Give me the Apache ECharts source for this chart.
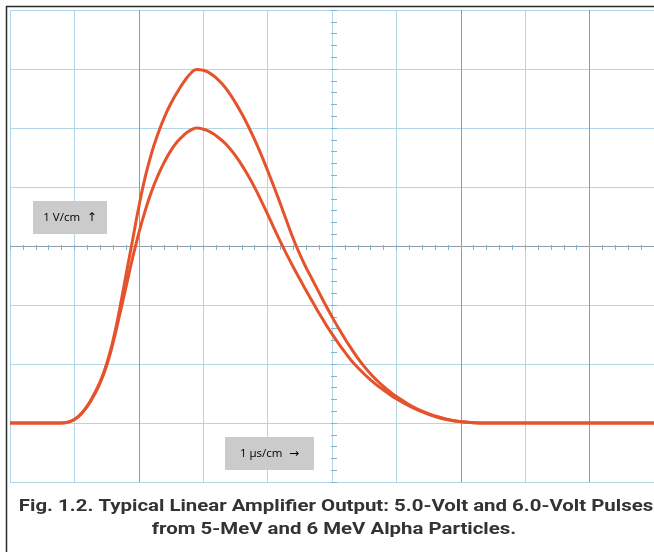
<!DOCTYPE html>
<html>
<head>
<meta charset="utf-8">
<script src="https://cdn.jsdelivr.net/npm/echarts@6/dist/echarts.min.js"></script>
<style>
html,body{margin:0;padding:0;background:#fff;}
#chart{width:654px;height:552px;}
</style>
</head>
<body>
<div id="chart"></div>
<script>
// time in microseconds (1 µs/cm)
const timeUs = [0, 0.4, 0.8, 0.9, 1.0, 1.1, 1.2, 1.3, 1.4, 1.5, 1.6, 1.7, 1.8, 1.9, 2.0, 2.1, 2.2, 2.3, 2.4, 2.5, 2.6, 2.7, 2.8, 2.9, 3.0, 3.1, 3.2, 3.3, 3.4, 3.5, 3.6, 3.7, 3.8, 3.9, 4.0, 4.1, 4.2, 4.3, 4.4, 4.5, 4.6, 4.7, 4.8, 4.9, 5.0, 5.1, 5.2, 5.3, 5.4, 5.5, 5.6, 5.7, 5.8, 5.9, 6.0, 6.2, 6.4, 6.6, 6.8, 7.0, 7.2, 7.4, 8, 9, 10];
// 6.0-Volt pulse (6-MeV alpha)
const pulse6V = [0, 0, 0, 0.015, 0.06, 0.15, 0.29, 0.48, 0.7, 1.0, 1.4, 1.92, 2.5, 3.08, 3.66, 4.17, 4.58, 4.91, 5.19, 5.42, 5.61, 5.78, 5.92, 5.99, 5.98, 5.93, 5.85, 5.74, 5.6, 5.43, 5.24, 5.03, 4.8, 4.55, 4.28, 4.0, 3.71, 3.41, 3.12, 2.86, 2.63, 2.42, 2.21, 2.0, 1.8, 1.61, 1.43, 1.26, 1.1, 0.96, 0.83, 0.72, 0.62, 0.53, 0.45, 0.31, 0.2, 0.12, 0.06, 0.025, 0.005, 0, 0, 0, 0];
// 5.0-Volt pulse (5-MeV alpha)
const pulse5V = [0, 0, 0, 0.015, 0.06, 0.15, 0.28, 0.46, 0.68, 0.97, 1.36, 1.82, 2.3, 2.78, 3.22, 3.6, 3.93, 4.2, 4.43, 4.62, 4.77, 4.88, 4.96, 5.0, 4.98, 4.94, 4.87, 4.78, 4.67, 4.53, 4.37, 4.19, 3.99, 3.77, 3.54, 3.3, 3.07, 2.85, 2.64, 2.44, 2.24, 2.05, 1.86, 1.68, 1.51, 1.35, 1.2, 1.06, 0.94, 0.83, 0.73, 0.64, 0.56, 0.48, 0.41, 0.29, 0.19, 0.11, 0.055, 0.02, 0.005, 0, 0, 0, 0];
const xTicks = [0, 1, 2, 3, 4, 5, 6, 7, 8, 9, 10];
const yTicks = [-1, 0, 1, 2, 3, 4, 5, 6, 7];
const voltText = '1 V/cm', voltArrow = '\u2191';
const timeText = '1 \u00b5s/cm', timeArrow = '\u2192';
const captionLine1 = 'Fig. 1.2. Typical Linear Amplifier Output: 5.0-Volt and 6.0-Volt Pulses';
const captionLine2 = 'from 5-MeV and 6 MeV Alpha Particles.';

const BLUE = '#b3d5e8', GRAY = '#8e9ca6';
const xLineColors = xTicks.map(t => (t === 2 || t === 7 || t === 9) ? GRAY : BLUE);
const yLineColors = yTicks.map(v => v === 3 ? GRAY : BLUE);

const chart = echarts.init(document.getElementById('chart'), null, {renderer: 'canvas'});
const lineColor = '#e5532c';
const mk = ys => timeUs.map((t, i) => [t, ys[i]]);
const hidden = {axisLabel: {show: false}, axisTick: {show: false}, axisLine: {show: false, onZero: false}};

const centerTick = (extra) => Object.assign({
  type: 'value', min: 0, max: 10, interval: 0.2,
  axisLabel: {show: false}, splitLine: {show: false},
  axisLine: {show: false, onZero: false}
}, extra);
const tickStyle = {color: '#7fb6d6', width: 1};

const labelRich = {
  t: {fontFamily: '"Open Sans", sans-serif', fontSize: 11.5, color: '#333'},
  a: {fontFamily: '"DejaVu Sans", sans-serif', fontSize: 12, color: '#333'}
};

const option = {
  backgroundColor: '#ffffff',
  animation: false,
  grid: {left: 10, top: 10, width: 648, height: 472, containLabel: false},
  xAxis: [
    Object.assign({type: 'value', min: 0, max: 10, interval: 1,
      splitLine: {show: true, showMinLine: true, showMaxLine: true, lineStyle: {color: xLineColors, width: 1}}}, hidden),
    centerTick({position: 'top', offset: -237, axisTick: {show: true, inside: true, length: 3, lineStyle: tickStyle}}),
    centerTick({position: 'top', offset: -237, axisTick: {show: true, inside: false, length: 2, lineStyle: tickStyle}})
  ],
  yAxis: [
    Object.assign({type: 'value', min: -1, max: 7, interval: 1,
      splitLine: {show: true, showMinLine: true, showMaxLine: true, lineStyle: {color: yLineColors, width: 1}}}, hidden),
    centerTick({min: -1, max: 7, position: 'left', offset: -324, axisTick: {show: true, inside: true, length: 3, lineStyle: tickStyle}}),
    centerTick({min: -1, max: 7, position: 'left', offset: -324, axisTick: {show: true, inside: false, length: 3, lineStyle: tickStyle}})
  ],
  series: [
    {name: '6.0 V', type: 'line', data: mk(pulse6V), showSymbol: false, smooth: 0.5,
      lineStyle: {color: lineColor, width: 3}, z: 5},
    {name: '5.0 V', type: 'line', data: mk(pulse5V), showSymbol: false, smooth: 0.5,
      lineStyle: {color: lineColor, width: 3}, z: 5}
  ],
  graphic: [
    {type: 'line', shape: {x1: 6.5, y1: 6, x2: 6.5, y2: 552}, style: {stroke: '#2a2a2a', lineWidth: 1.5}, z: 10},
    {type: 'line', shape: {x1: 6, y1: 6.5, x2: 654, y2: 6.5}, style: {stroke: '#2a2a2a', lineWidth: 1.5}, z: 10},
    {type: 'rect', shape: {x: 33, y: 201, width: 74, height: 33}, style: {fill: '#cbcbcb'}, z: 8},
    {type: 'text', x: 70, y: 217.5, style: {text: '{t|' + voltText + '}  {a|' + voltArrow + '}', rich: labelRich, align: 'center', verticalAlign: 'middle'}, z: 9},
    {type: 'rect', shape: {x: 225, y: 437, width: 89, height: 33}, style: {fill: '#cbcbcb'}, z: 8},
    {type: 'text', x: 269.5, y: 453.5, style: {text: '{t|' + timeText + '}  {a|' + timeArrow + '}', rich: labelRich, align: 'center', verticalAlign: 'middle'}, z: 9},
    {type: 'text', x: 336, y: 507, scaleX: 1.2, style: {text: captionLine1, fill: '#333', font: 'bold 17px Roboto, sans-serif', align: 'center', verticalAlign: 'middle'}, z: 9},
    {type: 'text', x: 334, y: 530, scaleX: 1.2, style: {text: captionLine2, fill: '#333', font: 'bold 17px Roboto, sans-serif', align: 'center', verticalAlign: 'middle'}, z: 9}
  ]
};
chart.setOption(option);
</script>
</body>
</html>
